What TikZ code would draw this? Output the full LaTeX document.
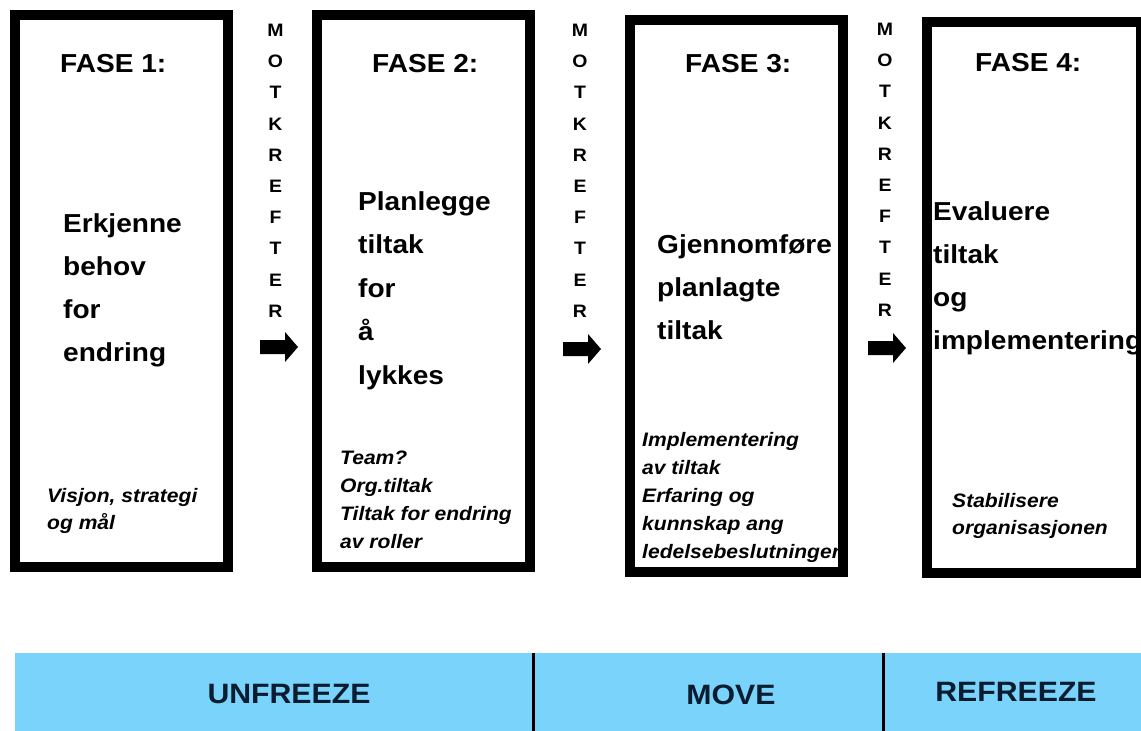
\documentclass[tikz,border=0pt]{standalone}
\usepackage{fontspec}
\setmainfont{Liberation Sans}
\definecolor{barblue}{RGB}{122,211,251}
\definecolor{bartext}{RGB}{10,28,48}
\newcommand\hs[1]{\scalebox{1.08}[1]{#1}}
\tikzset{
  phasebox/.style={draw=black, line width=10pt, inner sep=0pt},
  fasetxt/.style={font=\fontsize{26}{26}\selectfont\bfseries, anchor=base west, inner sep=0pt},
  maintxt/.style={font=\fontsize{26}{26}\selectfont\bfseries, anchor=base west, inner sep=0pt},
  smalltxt/.style={font=\fontsize{19.5}{19.5}\selectfont\bfseries\itshape, anchor=base west, inner sep=0pt},
  vertxt/.style={font=\fontsize{18}{31.2}\selectfont\bfseries, align=center, anchor=north, inner sep=0pt},
  bartxt/.style={font=\fontsize{28}{28}\selectfont\bfseries, text=bartext, anchor=base, inner sep=0pt},
  blockarrow/.style={fill=black},
  divider/.style={draw=black, line width=3pt},
}
\begin{document}
\begin{tikzpicture}[x=1pt,y=-1pt]
\useasboundingbox (0,0) rectangle (1141,731);
\begin{scope}
\clip (0,0) rectangle (1141,731);
% boxes
\node[phasebox, minimum width=213pt, minimum height=552pt] (box1) at (121.5,291) {};
\node[phasebox, minimum width=213pt, minimum height=552pt] (box2) at (423.5,291) {};
\node[phasebox, minimum width=213pt, minimum height=552pt] (box3) at (736.5,296) {};
\node[phasebox, minimum width=214pt, minimum height=551pt] (box4) at (1034,297.5) {};

% headings
\node[fasetxt] (f1) at (60,72) {\hs{FASE 1:}};
\node[fasetxt] (f2) at (372,72) {\hs{FASE 2:}};
\node[fasetxt] (f3) at (685,72) {\hs{FASE 3:}};
\node[fasetxt] (f4) at (975,71) {\hs{FASE 4:}};

% main texts
\foreach \t [count=\i] in {Erkjenne,behov,for,endring}
  \node[maintxt] (m1-\i) at (63,{232+43*(\i-1)}) {\hs{\t}};
\foreach \t [count=\i] in {Planlegge,tiltak,for,å,lykkes}
  \node[maintxt] (m2-\i) at (358,{210+43.5*(\i-1)}) {\hs{\t}};
\foreach \t [count=\i] in {Gjennomføre,planlagte,tiltak}
  \node[maintxt] (m3-\i) at (657,{253+43*(\i-1)}) {\hs{\t}};
\foreach \t [count=\i] in {Evaluere,tiltak,og,implementering}
  \node[maintxt] (m4-\i) at (933,{220+43*(\i-1)}) {\hs{\t}};

% small italic texts
\foreach \t [count=\i] in {{Visjon, strategi},{og mål}}
  \node[smalltxt] (s1-\i) at (47,{502+27*(\i-1)}) {\hs{\t}};
\foreach \t [count=\i] in {Team?,Org.tiltak,Tiltak for endring,av roller}
  \node[smalltxt] (s2-\i) at (340,{464+28.3*(\i-1)}) {\hs{\t}};
\foreach \t [count=\i] in {Implementering,av tiltak,Erfaring og,kunnskap ang,ledelsebeslutninger}
  \node[smalltxt] (s3-\i) at (642,{446+28*(\i-1)}) {\hs{\t}};
\foreach \t [count=\i] in {Stabilisere,organisasjonen}
  \node[smalltxt] (s4-\i) at (952,{507+27*(\i-1)}) {\hs{\t}};

% vertical MOTKREFTER columns
\node[vertxt] (v1) at (275.5,24) {\hs{M}\\\hs{O}\\\hs{T}\\\hs{K}\\\hs{R}\\\hs{E}\\\hs{F}\\\hs{T}\\\hs{E}\\\hs{R}};
\node[vertxt] (v2) at (580,24) {\hs{M}\\\hs{O}\\\hs{T}\\\hs{K}\\\hs{R}\\\hs{E}\\\hs{F}\\\hs{T}\\\hs{E}\\\hs{R}};
\node[vertxt] (v3) at (885,23) {\hs{M}\\\hs{O}\\\hs{T}\\\hs{K}\\\hs{R}\\\hs{E}\\\hs{F}\\\hs{T}\\\hs{E}\\\hs{R}};

% block arrows
\foreach \x/\y in {260/347, 563/349, 868/348}
  \fill[blockarrow] (\x,\y-7) -- (\x+25,\y-7) -- (\x+25,\y-15) -- (\x+38,\y) -- (\x+25,\y+15) -- (\x+25,\y+7) -- (\x,\y+7) -- cycle;

% bottom bar
\node[fill=barblue, inner sep=0pt, minimum width=1126pt, minimum height=78pt] (bar) at (578,692) {};
\coordinate (d1t) at (533,653); \coordinate (d1b) at (533,731);
\coordinate (d2t) at (883,653); \coordinate (d2b) at (883,731);
\draw[divider] (d1t) -- (d1b);
\draw[divider] (d2t) -- (d2b);
\node[bartxt] (unf) at (289,703) {\hs{UNFREEZE}};
\node[bartxt] (mov) at (731,704) {\hs{MOVE}};
\node[bartxt] (ref) at (1016,701) {\hs{REFREEZE}};
\end{scope}
\end{tikzpicture}
\end{document}
